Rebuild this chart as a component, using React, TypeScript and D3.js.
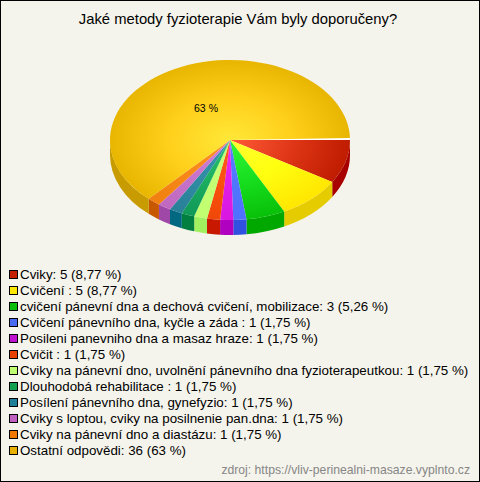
import React from "react";
import * as d3 from "d3";

const title = "Jaké metody fyzioterapie Vám byly doporučeny?";
const source = "zdroj: https://vliv-perinealni-masaze.vyplnto.cz";
const pieLabel = "63 %";
const labels = [
  "Cviky: 5 (8,77 %)",
  "Cvičení : 5 (8,77 %)",
  "cvičení pánevní dna a dechová cvičení, mobilizace: 3 (5,26 %)",
  "Cvičení pánevního dna, kyčle a záda : 1 (1,75 %)",
  "Posileni panevniho dna a masaz hraze: 1 (1,75 %)",
  "Cvičit : 1 (1,75 %)",
  "Cviky na pánevní dno, uvolnění pánevního dna fyzioterapeutkou: 1 (1,75 %)",
  "Dlouhodobá rehabilitace : 1 (1,75 %)",
  "Posílení pánevního dna, gynefyzio: 1 (1,75 %)",
  "Cviky s loptou, cviky na posilnenie pan.dna: 1 (1,75 %)",
  "Cviky na pánevní dno a diastázu: 1 (1,75 %)",
  "Ostatní odpovědi: 36 (63 %)",
];
const values = [5, 5, 3, 1, 1, 1, 1, 1, 1, 1, 1, 36];
const legendColors = ["#c41e00", "#ffe800", "#0abf0a", "#4a6cf5", "#c010d0", "#e84000", "#c0ff70", "#10a050", "#207f98", "#c060c0", "#f07800", "#e8b000"];
const innerColors = ["#ff5a38", "#ffff30", "#30f838", "#5a80ff", "#f030f0", "#ff5a20", "#c8ff78", "#28c070", "#3898b0", "#d080d8", "#ff9020", "#ffe838"];
const midColors = ["#e03818", "#ffff10", "#18e020", "#5078ff", "#e020e8", "#fa5010", "#c4ff74", "#1cb060", "#308ca4", "#c874cc", "#f88818", "#ffd01c"];
const outerColors = ["#c01c00", "#ffe600", "#08c008", "#5070ff", "#d818e0", "#f04808", "#c0ff70", "#109858", "#288098", "#c068c0", "#f08010", "#e8b600"];
const sideColors = ["#a80000", "#e4cc00", "#00a800", "#3050e0", "#b000c0", "#c81800", "#a0f060", "#007f40", "#006880", "#a048a8", "#c85800", "#c89c00"];

const W = 480, H = 482, CX = 230, CY = 140, R = 120, YS = 80 / 120, DEPTH = 15;

const pie = d3.pie<number>().sort(null).startAngle(Math.PI / 2).endAngle(Math.PI / 2 + 2 * Math.PI);
const arcs = pie(values);
const arc = d3.arc<d3.PieArcDatum<number>>().innerRadius(0).outerRadius(R);

const rx = (a: number) => CX + R * Math.sin(a);
const ry = (a: number) => CY - R * YS * Math.cos(a);

function sidePath(a0: number, a1: number) {
  const s = Math.max(a0, Math.PI / 2);
  const e = Math.min(a1, (3 * Math.PI) / 2);
  if (e <= s) return null;
  const ryy = R * YS;
  return `M${rx(s)},${ry(s)} A${R},${ryy} 0 0 1 ${rx(e)},${ry(e)} L${rx(e)},${ry(e) + DEPTH} A${R},${ryy} 0 0 0 ${rx(s)},${ry(s) + DEPTH} Z`;
}

export default function App() {
  const font = "'Liberation Sans', Arial, sans-serif";
  return (
    <svg width={W} height={H} style={{ position: "fixed", left: 0, top: 0, display: "block" }} fontFamily={font}>
      <defs>
        {arcs.map((_, i) => (
          <radialGradient key={i} id={`g${i}`} gradientUnits="userSpaceOnUse" cx={0} cy={0} r={R}>
            <stop offset="0%" stopColor={innerColors[i]} />
            <stop offset="50%" stopColor={midColors[i]} />
            <stop offset="100%" stopColor={outerColors[i]} />
          </radialGradient>
        ))}
      </defs>
      <rect x={0.5} y={0.5} width={W - 1} height={H - 1} fill="#f5f4ec" stroke="#000" />
      <text x={238} y={24} textAnchor="middle" fontSize={14.8} fill="#000">{title}</text>
      <g>
        {arcs.map((d, i) => {
          const p = sidePath(d.startAngle, d.endAngle);
          return p ? <path key={i} d={p} fill={sideColors[i]} /> : null;
        })}
      </g>
      <g transform={`translate(${CX},${CY}) scale(1,${YS})`}>
        {arcs.map((d, i) => (
          <path key={i} d={arc(d) as string} fill={`url(#g${i})`} />
        ))}
      </g>
      <path d={`M${CX},${CY} L${CX + R},${CY - 2} L${CX + R},${CY} Z`} fill="#ffffff" />
      <text x={206} y={112} textAnchor="middle" fontSize={10.5} fill="#000">{pieLabel}</text>
      <g>
        {labels.map((t, i) => {
          const y = 274 + i * 16;
          return (
            <g key={i}>
              <rect x={9.5} y={y - 3.5} width={8} height={8} fill={legendColors[i]} stroke="#000" strokeWidth={1} />
              <text x={20} y={y + 5} fontSize={13.33} fill="#000">{t}</text>
            </g>
          );
        })}
      </g>
      <text x={470} y={474} textAnchor="end" fontSize={12.2} fill="#868686">{source}</text>
    </svg>
  );
}
